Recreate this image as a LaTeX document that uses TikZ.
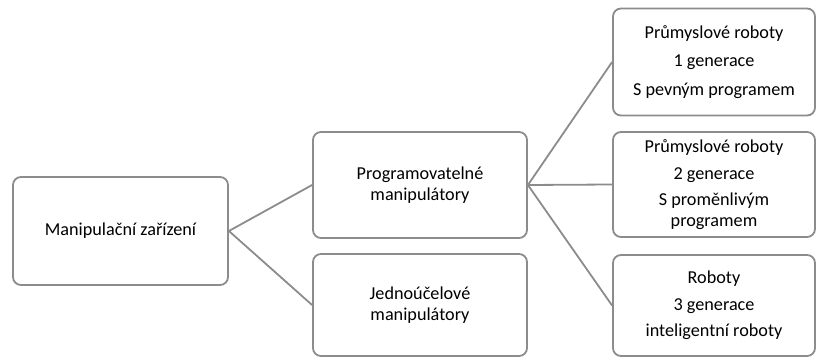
\documentclass[tikz,border=0pt]{standalone}
\usepackage{fontspec}
\setmainfont{Carlito}
\definecolor{lineg}{HTML}{8C8C8C}
\definecolor{txt}{HTML}{000000}
\tikzset{
  box/.style={draw=lineg, line width=1.8pt, rounded corners=8pt, fill=white,
    align=center, text=txt, inner sep=2pt,
    font=\fontsize{18.2pt}{20.5pt}\selectfont},
  conn/.style={draw=lineg, line width=1.8pt}
}
\begin{document}
\begin{tikzpicture}[x=1pt,y=-1pt]
\useasboundingbox (0,0) rectangle (816,358);
\node[box, minimum width=215pt, minimum height=108pt] (A) at (120.5,231) {Manipulační zařízení};
\node[box, minimum width=214pt, minimum height=106pt] (B) at (420,185) {Programovatelné\\manipulátory};
\node[box, minimum width=214pt, minimum height=102pt] (C) at (420,305) {Jednoúčelové\\manipulátory};
\node[box, minimum width=202pt, minimum height=107pt] (R1) at (714,62) {Průmyslové roboty\\[8pt]1 generace\\[8pt]S pevným programem};
\node[box, minimum width=202pt, minimum height=105pt] (R2) at (714,184.5) {Průmyslové roboty\\[6pt]2 generace\\[6pt]S proměnlivým\\programem};
\node[box, minimum width=202pt, minimum height=101pt] (R3) at (714,305.5) {Roboty\\[6pt]3 generace\\[6pt]inteligentní roboty};
\draw[conn] (A.east) -- (B.west);
\draw[conn] (A.east) -- (C.west);
\draw[conn] (B.east) -- (R1.west);
\draw[conn] (B.east) -- (R2.west);
\draw[conn] (B.east) -- (R3.west);
\end{tikzpicture}
\end{document}
